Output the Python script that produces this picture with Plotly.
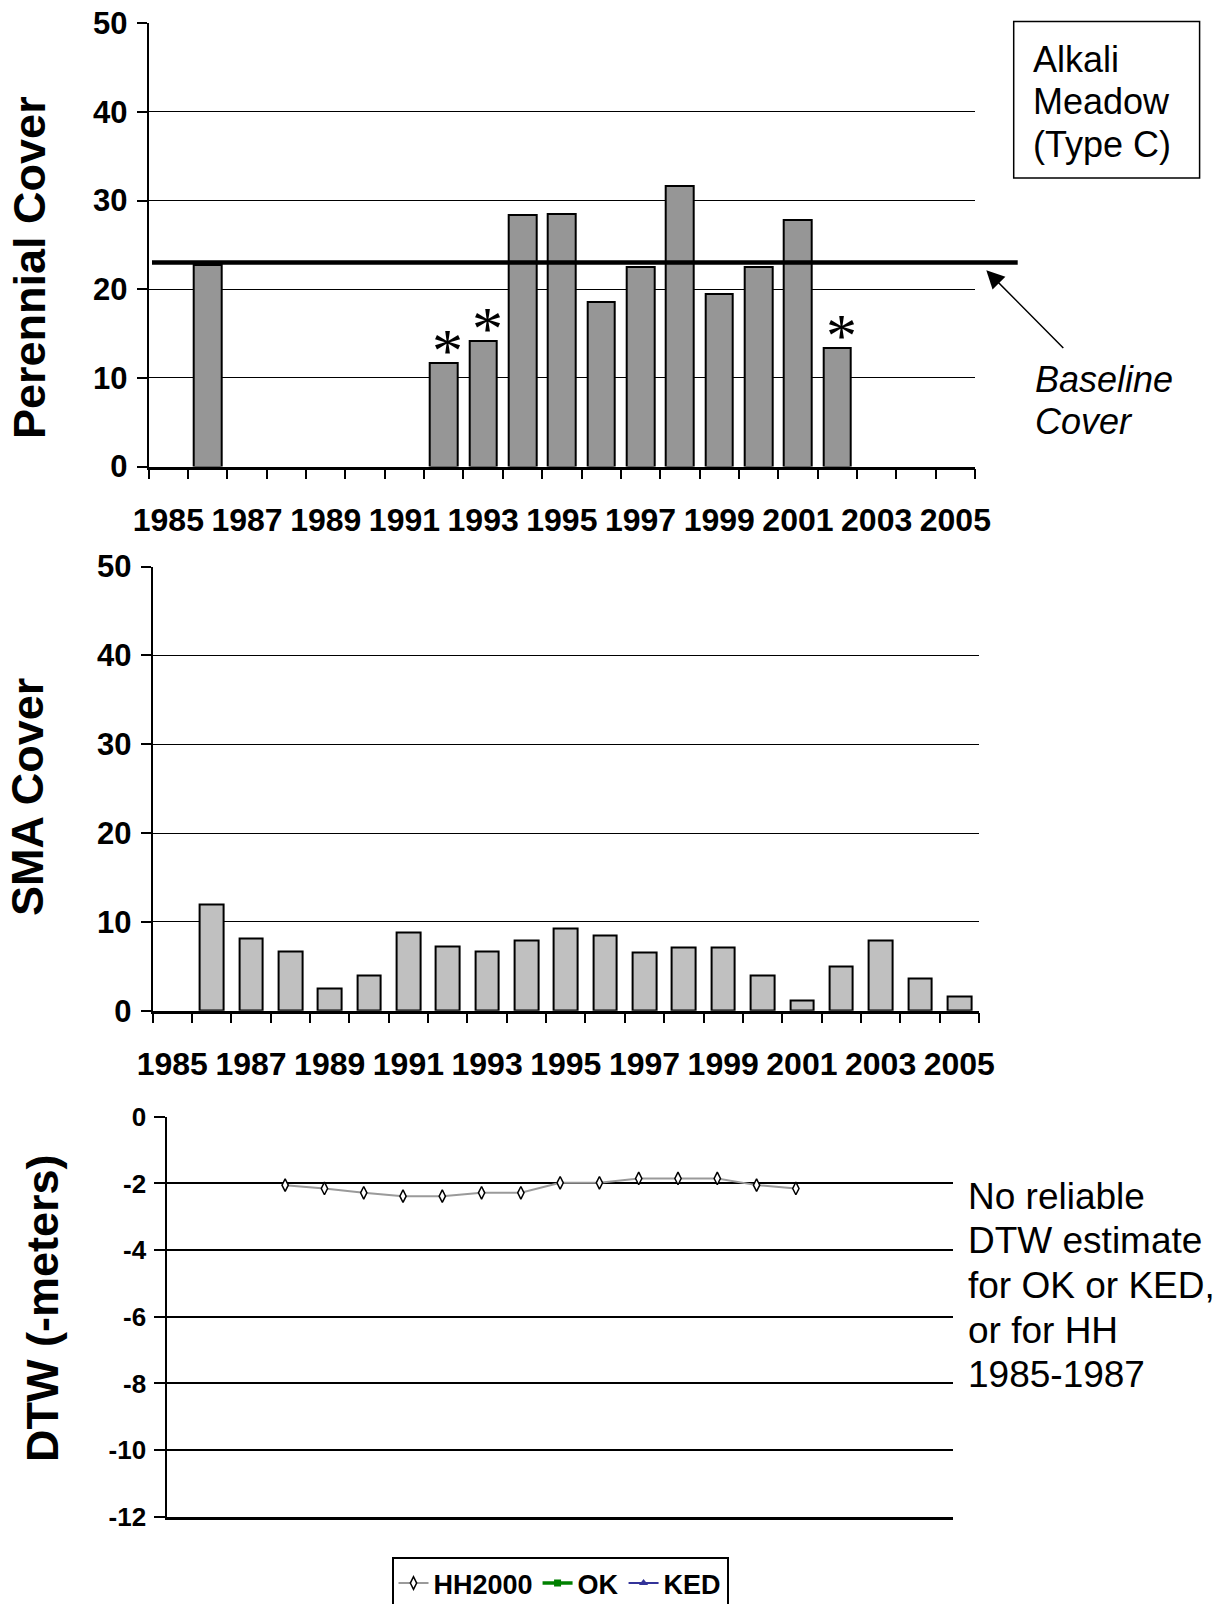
import plotly.graph_objects as go

W, H = 1231, 1604

# ---- data -------------------------------------------------------------
YEARS = list(range(1985, 2006))
YEAR_LABELS = list(range(1985, 2006, 2))

PERENNIAL_YEARS = [1986, 1992, 1993, 1994, 1995, 1996, 1997, 1998, 1999, 2000, 2001, 2002]
PERENNIAL_COVER = [22.7, 11.7, 14.2, 28.3, 28.5, 18.6, 22.5, 31.6, 19.5, 22.5, 27.8, 13.4]
BASELINE_COVER = 23.0
FLAGGED_YEARS = [1992, 1993, 2002]

SMA_YEARS = list(range(1986, 2006))
SMA_COVER = [11.9, 8.1, 6.7, 2.5, 4.0, 8.8, 7.2, 6.7, 7.9, 9.2,
             8.5, 6.5, 7.15, 7.15, 4.0, 1.15, 5.0, 7.9, 3.6, 1.6]

DTW_YEARS = list(range(1988, 2002))
DTW_HH2000 = [-2.05, -2.15, -2.28, -2.38, -2.38, -2.28, -2.28,
              -1.98, -1.98, -1.85, -1.85, -1.85, -2.05, -2.15]
DTW_OK = [None] * len(YEARS)
DTW_KED = [None] * len(YEARS)
DTW_TICKS = [0, -2, -4, -6, -8, -10, -12]

# ---- helpers ----------------------------------------------------------
FONT = "Liberation Sans, Arial, sans-serif"


def px_x(x):
    return x / W


def px_y(y):
    return 1 - y / H


fig = go.Figure()

# Panel 1: perennial cover bars
fig.add_trace(go.Bar(
    x=PERENNIAL_YEARS, y=PERENNIAL_COVER, width=0.7,
    marker=dict(color="#969696", line=dict(color="black", width=2)),
    xaxis="x", yaxis="y", showlegend=False, hoverinfo="skip"))

# Panel 2: SMA cover bars
fig.add_trace(go.Bar(
    x=SMA_YEARS, y=SMA_COVER, width=0.6,
    marker=dict(color="#C0C0C0", line=dict(color="black", width=2)),
    xaxis="x2", yaxis="y2", showlegend=False, hoverinfo="skip"))

# Panel 3: depth to water
fig.add_trace(go.Scatter(
    x=DTW_YEARS, y=DTW_HH2000, name="HH2000", mode="lines+markers",
    line=dict(color="#9A9A9A", width=2),
    marker=dict(symbol="diamond-tall", size=9, color="white",
                line=dict(color="black", width=1.5)),
    xaxis="x3", yaxis="y3"))
fig.add_trace(go.Scatter(
    x=YEARS, y=DTW_OK, name="OK", mode="lines+markers",
    line=dict(color="#008000", width=3.5),
    marker=dict(symbol="square", size=7, color="#008000"),
    xaxis="x3", yaxis="y3"))
fig.add_trace(go.Scatter(
    x=YEARS, y=DTW_KED, name="KED", mode="lines+markers",
    line=dict(color="#333399", width=2),
    marker=dict(symbol="triangle-up", size=8, color="#333399"),
    xaxis="x3", yaxis="y3"))

year_axis = dict(
    range=[1984.5, 2005.5], tickmode="array", tickvals=YEAR_LABELS,
    ticks="", showgrid=False, zeroline=False, automargin=False,
    showline=True, linecolor="black", linewidth=2.5,
    tickfont=dict(family=FONT, size=32, color="black", weight="bold"),
    ticklabelstandoff=23,
    minor=dict(tickmode="array", tickvals=[1984.5 + i for i in range(22)],
               ticks="outside", ticklen=10, tickwidth=2, tickcolor="black",
               showgrid=False),
)
cover_axis = dict(
    range=[0, 50], tickmode="linear", tick0=0, dtick=10,
    showgrid=True, gridcolor="black", gridwidth=1, zeroline=False,
    automargin=False,
    showline=True, linecolor="black", linewidth=2,
    ticks="outside", ticklen=10, tickwidth=2, tickcolor="black",
    tickfont=dict(family=FONT, size=31, color="black", weight="bold"),
    ticklabelstandoff=3,
)

fig.update_layout(
    width=W, height=H, margin=dict(l=0, r=0, t=0, b=0, autoexpand=False),
    paper_bgcolor="white", plot_bgcolor="white",
    bargap=0,
    xaxis=dict(domain=[px_x(148.7), px_x(975)], anchor="y", **year_axis),
    yaxis=dict(domain=[px_y(466.6), px_y(23.1)], anchor="x", **cover_axis),
    xaxis2=dict(domain=[px_x(152.6), px_x(979)], anchor="y2", **year_axis),
    yaxis2=dict(domain=[px_y(1010.7), px_y(566.5)], anchor="x2", **cover_axis),
    xaxis3=dict(domain=[px_x(167.3), px_x(953)], anchor="y3",
                range=[1985, 2005], showticklabels=False, ticks="",
                showgrid=False, zeroline=False, automargin=False,
                showline=True, linecolor="black", linewidth=2.5),
    yaxis3=dict(domain=[px_y(1516.8), px_y(1116.8)], anchor="x3",
                range=[-12, 0], tickmode="array", tickvals=DTW_TICKS,
                ticktext=[str(v) for v in DTW_TICKS],
                showgrid=True, gridcolor="black", gridwidth=1.5, zeroline=False,
                automargin=False,
                showline=True, linecolor="black", linewidth=2,
                ticks="outside", ticklen=11, tickwidth=2, tickcolor="black",
                tickfont=dict(family=FONT, size=26, color="black", weight="bold"),
                ticklabelstandoff=3),
    legend=dict(orientation="h", x=px_x(560), xanchor="center",
                y=px_y(1557), yanchor="top",
                bordercolor="black", borderwidth=2, bgcolor="white",
                font=dict(family=FONT, size=27, color="black", weight="bold"),
                itemwidth=30, tracegroupgap=0),
)

# Baseline cover reference line, running past the plot edge
fig.add_shape(type="line", xref="paper", yref="y",
              x0=px_x(152), x1=px_x(1017.7), y0=BASELINE_COVER, y1=BASELINE_COVER,
              line=dict(color="black", width=4.5))

# Site label box
fig.add_shape(type="rect", xref="paper", yref="paper",
              x0=px_x(1013.7), x1=px_x(1199.6), y0=px_y(178), y1=px_y(21.4),
              line=dict(color="black", width=1.5), fillcolor="white")

annotations = []


def text_line(txt, x, y, size, italic=False, bold=False, anchor="left"):
    annotations.append(dict(
        text=txt, xref="paper", yref="paper", x=px_x(x), y=px_y(y),
        xanchor=anchor, yanchor="middle", showarrow=False,
        font=dict(family=FONT, size=size, color="black",
                  style="italic" if italic else "normal",
                  weight="bold" if bold else "normal")))


for i, t in enumerate(["Alkali", "Meadow", "(Type C)"]):
    text_line(t, 1031, 59 + 43 * i, 36)

for i, t in enumerate(["Baseline", "Cover"]):
    text_line(t, 1033, 379 + 42 * i, 36, italic=True)

for i, t in enumerate(["No reliable", "DTW estimate", "for OK or KED,",
                       "or for HH", "1985-1987"]):
    text_line(t, 966, 1196 + 44.7 * i, 37)

# Arrow pointing at the baseline line
annotations.append(dict(
    xref="paper", yref="paper", x=px_x(986.3), y=px_y(270.3),
    axref="pixel", ayref="pixel", ax=78.5, ay=79.2,
    showarrow=True, arrowhead=2, arrowsize=2.4, arrowwidth=1.5,
    arrowcolor="black", text=""))

# Asterisks over flagged years
for yr in FLAGGED_YEARS:
    val = PERENNIAL_COVER[PERENNIAL_YEARS.index(yr)]
    annotations.append(dict(
        text="*", x=yr, y=val, xref="x", yref="y",
        xanchor="center", yanchor="bottom", showarrow=False,
        xshift=4, yshift=-23,
        font=dict(family="Liberation Serif, Times New Roman, serif",
                  size=62, color="black")))

# Rotated axis titles
for txt, x, y in [("Perennial Cover", 29, 268),
                  ("SMA Cover", 27, 797),
                  ("DTW (-meters)", 42, 1308)]:
    annotations.append(dict(
        text=txt, xref="paper", yref="paper", x=px_x(x), y=px_y(y),
        xanchor="center", yanchor="middle", textangle=-90, showarrow=False,
        font=dict(family=FONT, size=45, color="black", weight="bold")))

fig.update_layout(annotations=annotations)

fig.write_html("out.html")
